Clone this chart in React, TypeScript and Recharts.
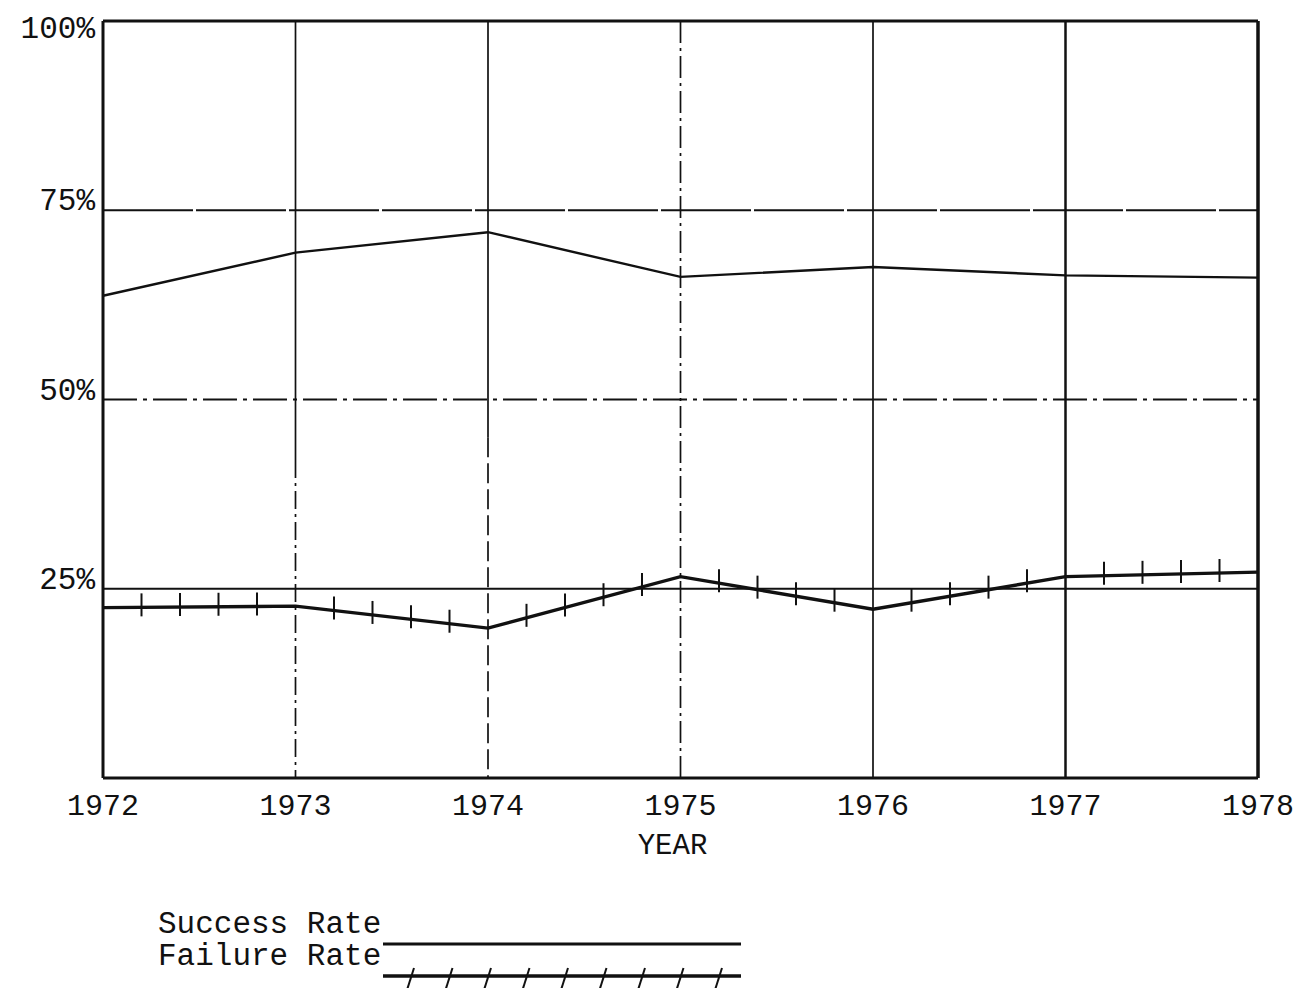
import React from 'react';
import { LineChart, Line, XAxis, YAxis, ReferenceLine } from 'recharts';

const YEARS = [1972, 1973, 1974, 1975, 1976, 1977, 1978];
const SUCCESS_RATE = [63.7, 69.4, 72.1, 66.2, 67.5, 66.4, 66.1];
const FAILURE_RATE = [22.5, 22.7, 19.8, 26.6, 22.3, 26.6, 27.2];
const Y_TICKS = [25, 50, 75, 100];
const SERIES_NAMES = ['Success Rate', 'Failure Rate'];

const data = YEARS.map((year, i) => ({
  year,
  success: SUCCESS_RATE[i],
  failure: FAILURE_RATE[i],
}));

const INK = '#111';
const FONT = "'Liberation Mono', 'DejaVu Sans Mono', monospace";

// vertical rulings: [year, from %, to %, dash]; some were ruled solid above and dashed below
const vGrid: [number, number, number, string | undefined, number][] = [
  [1973, 100, 42, undefined, 1.7],
  [1973, 42, 0, '18 5 3 5', 1.7],
  [1974, 100, 45, undefined, 1.7],
  [1974, 45, 0, '20 6', 1.7],
  [1975, 100, 0, '22 5 3 5', 1.7],
  [1976, 100, 0, undefined, 1.7],
  [1977, 100, 0, undefined, 2.5],
];
const hGrid: Record<number, { dash?: string; width: number }> = {
  25: { width: 1.8 },
  50: { dash: '34 6 4 6', width: 1.8 },
  75: { dash: '90 3', width: 2 },
};

const YTick = (props: any) => {
  const { x, y, payload } = props;
  const v = payload.value;
  return (
    <text x={x} y={v === 100 ? y + 17 : y} textAnchor="end" fontFamily={FONT} fontSize={31} fill={INK}>
      {`${v}%`}
    </text>
  );
};

const XTick = (props: any) => {
  const { x, y, payload } = props;
  return (
    <text x={x} y={y} dy={29} textAnchor="middle" fontFamily={FONT} fontSize={30} fill={INK}>
      {payload.value}
    </text>
  );
};

// little cross-bars along the failure line, drawn between consecutive points
function makeFailureTicks() {
  const pts: { x: number; y: number }[] = [];
  return (p: any) => {
    const { cx, cy, index } = p;
    pts[index] = { x: cx, y: cy };
    const prev = pts[index - 1];
    const marks: React.ReactElement[] = [];
    if (prev) {
      for (let k = 1; k <= 4; k++) {
        const t = k / 5;
        const x = prev.x + (cx - prev.x) * t;
        const y = prev.y + (cy - prev.y) * t;
        marks.push(<line key={k} x1={x} x2={x} y1={y - 14} y2={y + 9} stroke={INK} strokeWidth={2} />);
      }
    }
    return <g key={`ft-${index}`}>{marks}</g>;
  };
}

export default function App() {
  const failureTicks = makeFailureTicks();
  const legendTicks = Array.from({ length: 9 }, (_, i) => 410 + i * 38.5);

  return (
    <div style={{ position: 'absolute', left: 0, top: 0, width: 1303, height: 988, background: '#fff' }}>
      <LineChart width={1303} height={988} data={data} margin={{ top: 21, right: 45, bottom: 153, left: 0 }}>
        <XAxis
          dataKey="year"
          type="number"
          domain={[1972, 1978]}
          ticks={YEARS}
          height={57}
          axisLine={{ stroke: INK, strokeWidth: 3 }}
          tickLine={false}
          tick={<XTick />}
          label={{ value: 'YEAR', position: 'bottom', offset: -2, dx: -8, fontFamily: FONT, fontSize: 29, fill: INK }}
        />
        <YAxis
          type="number"
          domain={[0, 100]}
          ticks={Y_TICKS}
          width={103}
          axisLine={{ stroke: INK, strokeWidth: 3 }}
          tickLine={false}
          tick={<YTick />}
        />
        {vGrid.map(([yr, from, to, dash, w]) => (
          <ReferenceLine
            key={`${yr}-${from}`}
            segment={[{ x: yr, y: from }, { x: yr, y: to }]}
            stroke={INK}
            strokeWidth={w}
            strokeDasharray={dash}
          />
        ))}
        {Object.entries(hGrid).map(([v, s]) => (
          <ReferenceLine key={v} y={Number(v)} stroke={INK} strokeWidth={s.width} strokeDasharray={s.dash} />
        ))}
        <ReferenceLine y={100} stroke={INK} strokeWidth={3} />
        <ReferenceLine x={1978} stroke={INK} strokeWidth={3.5} />
        <Line
          dataKey="success"
          name={SERIES_NAMES[0]}
          stroke={INK}
          strokeWidth={2.4}
          dot={false}
          isAnimationActive={false}
        />
        <Line
          dataKey="failure"
          name={SERIES_NAMES[1]}
          stroke={INK}
          strokeWidth={3.4}
          dot={failureTicks}
          activeDot={false}
          isAnimationActive={false}
        />
      </LineChart>
      <svg width={1303} height={988} style={{ position: 'absolute', left: 0, top: 0, pointerEvents: 'none' }}>
        <text x={158} y={933} fontFamily={FONT} fontSize={31} fill={INK}>
          {SERIES_NAMES[0]}
        </text>
        <line x1={383} x2={741} y1={944} y2={944} stroke={INK} strokeWidth={3} />
        <text x={158} y={965} fontFamily={FONT} fontSize={31} fill={INK}>
          {SERIES_NAMES[1]}
        </text>
        <line x1={383} x2={741} y1={976} y2={976} stroke={INK} strokeWidth={3.5} />
        {legendTicks.map((x) => (
          <line key={x} x1={x + 4} x2={x - 3} y1={968} y2={990} stroke={INK} strokeWidth={2} />
        ))}
      </svg>
    </div>
  );
}
